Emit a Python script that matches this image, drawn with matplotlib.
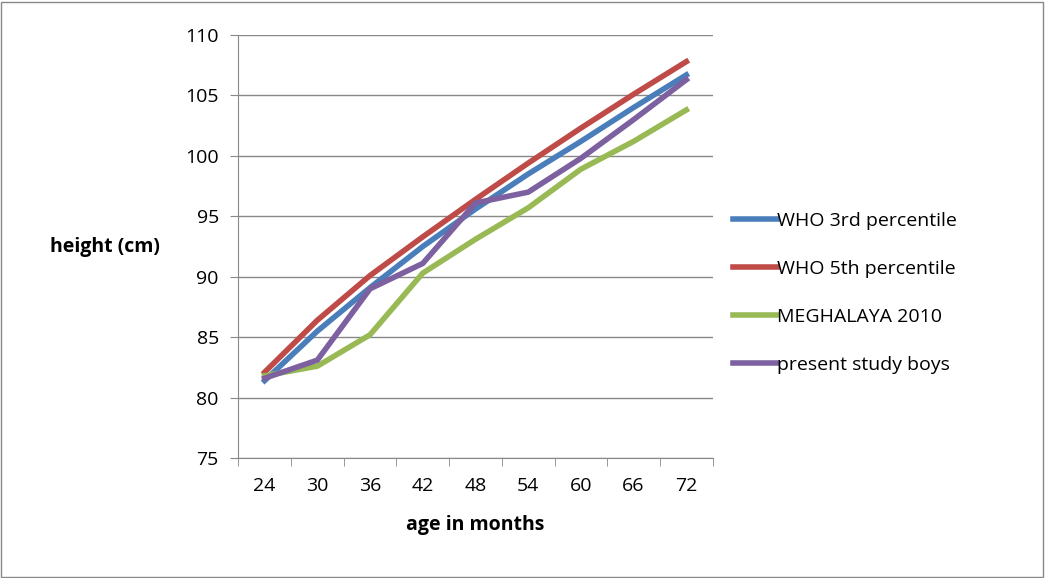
import matplotlib.pyplot as plt
import numpy as np

plt.rcParams['font.family'] = ['Open Sans', 'DejaVu Sans']

ages = ['24', '30', '36', '42', '48', '54', '60', '66', '72']
who3 = [81.4, 85.5, 89.1, 92.5, 95.6, 98.5, 101.2, 104.0, 106.7]
who5 = [82.1, 86.4, 90.1, 93.3, 96.4, 99.4, 102.3, 105.1, 107.8]
megh = [81.8, 82.6, 85.2, 90.3, 93.1, 95.7, 98.9, 101.2, 103.8]
boys = [81.6, 83.1, 89.0, 91.1, 96.1, 97.0, 99.8, 103.0, 106.3]

fig = plt.figure(figsize=(10.45, 5.78), dpi=100)
ax = fig.add_axes([0.228, 0.2076, 0.454, 0.7318])
x = np.arange(len(ages))
ax.plot(x, who3, color='#4a7ebb', lw=4, label='WHO 3rd percentile')
ax.plot(x, who5, color='#be4b48', lw=4, label='WHO 5th percentile')
ax.plot(x, megh, color='#98b954', lw=4, label='MEGHALAYA 2010')
ax.plot(x, boys, color='#7d60a0', lw=4, label='present study boys')

ax.set_xlim(-0.5, len(ages) - 0.5)
ax.set_ylim(75, 110)
ax.set_yticks(range(75, 111, 5))
ax.set_xticks(x)
ax.set_xticklabels(ages)
ax.set_xticks(np.arange(-0.5, len(ages)), minor=True)
ax.tick_params(axis='x', which='major', length=0, labelsize=14, pad=14)
ax.tick_params(axis='x', which='minor', length=6, color='#888888')
ax.tick_params(axis='y', length=6, labelsize=14, color='#888888', pad=8)
ax.grid(axis='y', color='#888888', lw=1)
ax.set_axisbelow(True)
for s in ['top', 'right']:
    ax.spines[s].set_visible(False)
for s in ['left', 'bottom']:
    ax.spines[s].set_color('#888888')
ax.set_xlabel('age in months', fontsize=14, fontweight='bold', labelpad=14)
fig.text(0.1, 0.572, 'height (cm)', fontsize=14, fontweight='bold', ha='center', va='center')
ax.legend(loc='center left', bbox_to_anchor=(1.005, 0.39), frameon=False, fontsize=14,
          handlelength=2.3, labelspacing=1.55, handletextpad=0.0)

fig.patches.append(plt.Rectangle((0.001, 0.002), 0.997, 0.995, transform=fig.transFigure,
                                 fill=False, edgecolor='#888888', lw=1))
fig.savefig('out.png')
